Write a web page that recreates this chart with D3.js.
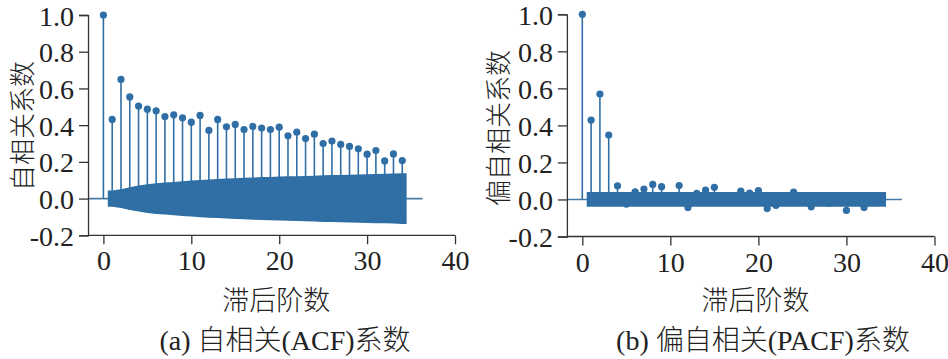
<!DOCTYPE html>
<html><head><meta charset="utf-8">
<script src="https://cdn.jsdelivr.net/npm/d3@7"></script>
<style>
body{margin:0;background:#fff;}
svg{display:block;}
</style></head>
<body><svg id="c" width="948" height="359"></svg>
<script>
// ---------- data ----------
const lags = d3.range(0, 35);
const acfValues = [1.0,0.431,0.649,0.554,0.504,0.487,0.478,0.447,0.456,0.440,0.416,0.453,0.371,0.431,0.391,0.404,0.376,0.393,0.384,0.376,0.389,0.342,0.362,0.327,0.351,0.300,0.313,0.295,0.284,0.271,0.242,0.262,0.205,0.243,0.207];
// half-width of the ACF confidence band at lags 1..34
const acfBand = [0.044,0.051,0.062,0.071,0.078,0.084,0.087,0.091,0.095,0.098,0.101,0.104,0.106,0.109,0.111,0.113,0.115,0.117,0.118,0.120,0.121,0.122,0.123,0.125,0.127,0.128,0.129,0.130,0.131,0.133,0.134,0.135,0.136,0.138];
const pacfValues = [1.0,0.429,0.569,0.348,0.074,-0.025,0.041,0.056,0.081,0.069,0.010,0.075,-0.043,0.033,0.051,0.066,0.005,-0.010,0.045,0.035,0.048,-0.049,-0.032,0.012,0.040,-0.015,-0.040,0.008,-0.020,0.015,-0.059,0.010,-0.044,-0.012,0.006];
const pacfBand = [0.04,0.04,0.04,0.04,0.04,0.04,0.04,0.04,0.04,0.04,0.04,0.04,0.04,0.04,0.04,0.04,0.04,0.04,0.04,0.04,0.04,0.04,0.04,0.04,0.04,0.04,0.04,0.04,0.04,0.04,0.04,0.04,0.04,0.04];
const yTicks = [-0.2,0.0,0.2,0.4,0.6,0.8,1.0];
const xTicks = [0,10,20,30,40];
const xLabel = "滞后阶数";
const panels = [
  {values: acfValues, band: acfBand, yLabel: "自相关系数", caption: ["(a) ","自相关","(ACF)","系数"],
   xr:[103.4,455], yr:[235.3,15], ylx:20, yly:126, capx:285},
  {values: pacfValues, band: pacfBand, yLabel: "偏自相关系数", caption: ["(b) ","偏自相关","(PACF)","系数"],
   xr:[582.3,934.5], yr:[236.5,14.3], ylx:496, yly:128, capx:763}
];
const xlimMin = -1.75, xlimMax = 36.3;
const color = "#2f6fa6";
const serif = "'Liberation Serif','Times New Roman',serif";
const cjk = "'Noto Sans CJK SC',sans-serif";

const svg = d3.select("#c");
panels.forEach(p => {
  const x = d3.scaleLinear().domain([0,40]).range(p.xr);
  const y = d3.scaleLinear().domain([-0.2,1]).range(p.yr);
  const g = svg.append("g");
  // zero line
  g.append("line").attr("x1", x(xlimMin)).attr("x2", x(xlimMax))
    .attr("y1", y(0)).attr("y2", y(0)).attr("stroke", "#4a7ca6").attr("stroke-width", 1.6);
  // stems
  g.selectAll(".stem").data(lags).join("line")
    .attr("x1", d => x(d)).attr("x2", d => x(d))
    .attr("y1", y(0)).attr("y2", d => y(p.values[d]))
    .attr("stroke", color).attr("stroke-width", 1.6);
  // band
  const full = [{lag:0.5,b:p.band[0]}]
    .concat(p.band.map((b,i)=>({lag:i+1,b})))
    .concat([{lag:34.5,b:p.band[p.band.length-1]}]);
  const area = d3.area().x(d => x(d.lag)).y0(d => y(-d.b)).y1(d => y(d.b));
  g.append("path").datum(full).attr("d", area).attr("fill", color);
  // markers
  g.selectAll(".dot").data(lags).join("circle")
    .attr("cx", d => x(d)).attr("cy", d => y(p.values[d])).attr("r", 3.6).attr("fill", color);
  // axes
  const fmtY = d => d3.format(".1f")(d).replace("\u2212", "-");
  const ax = g.append("g").attr("transform", `translate(0,${y(-0.2)})`)
    .call(d3.axisBottom(x).tickValues(xTicks).tickSize(9).tickPadding(6).tickFormat(d3.format("d")));
  ax.select(".domain").attr("d", `M${x(xlimMin)},0H${x(40)}`);
  const ay = g.append("g").attr("transform", `translate(${x(xlimMin)},0)`)
    .call(d3.axisLeft(y).tickValues(yTicks).tickSize(9).tickPadding(5).tickFormat(fmtY));
  [ax, ay].forEach(a => {
    a.attr("font-family", null).attr("font-size", null);
    a.select(".domain").attr("stroke", "#333").attr("stroke-width", 1.3);
    a.selectAll(".tick line").attr("stroke", "#333").attr("stroke-width", 1.3);
    a.selectAll(".tick text").style("font-family", serif).style("font-size", "28px").attr("fill", "#222");
  });
  ay.selectAll(".tick text").attr("dy", "0.36em");
  ax.selectAll(".tick text").attr("dy", "0.72em");
  // y label
  svg.append("text")
    .style("font-family", cjk).style("font-weight", 300).style("font-size", "26px").attr("fill", "#222")
    .attr("transform", `translate(${p.ylx},${p.yly}) rotate(-90)`)
    .attr("text-anchor", "middle").attr("dominant-baseline", "central").text(p.yLabel);
  // x label
  const cx = (x(0) + x(40)) / 2 - 3;
  svg.append("text")
    .style("font-family", cjk).style("font-weight", 300).style("font-size", "27px").attr("fill", "#222")
    .attr("x", cx).attr("y", 310).attr("text-anchor", "middle").text(xLabel);
  // caption
  const t = svg.append("text").attr("x", p.capx).attr("y", 350).attr("text-anchor", "middle")
    .style("font-size", "28px").attr("fill", "#222");
  p.caption.forEach((s,i) => {
    t.append("tspan")
      .style("font-family", (i % 2 === 0) ? serif : cjk)
      .style("font-weight", (i % 2 === 0) ? 400 : 300).text(s);
  });
});
</script></body></html>
